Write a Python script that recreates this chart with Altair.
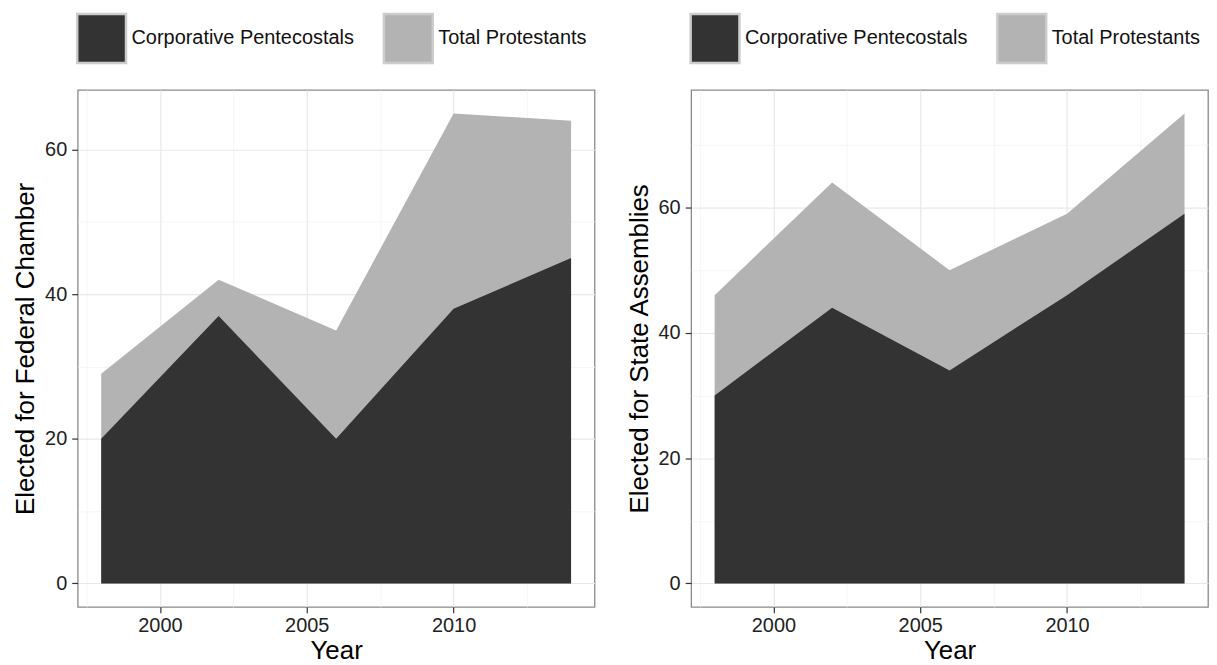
import altair as alt
import pandas as pd

years = [1998, 2002, 2006, 2010, 2014]
federal_pentecostals = [20, 37, 20, 38, 45]
federal_protestants = [29, 42, 35, 65, 64]
state_pentecostals = [30, 44, 34, 46, 59]
state_protestants = [46, 64, 50, 59, 75]

series_names = ["Corporative Pentecostals", "Total Protestants"]
series_colors = ["#333333", "#b3b3b3"]

FONT = "Liberation Sans"
W, H = 519, 519


def panel(pent, total, ytitle, ydomain, yvals):
    df = pd.concat([
        pd.DataFrame({"Year": years, "Value": pent, "Series": series_names[0]}),
        pd.DataFrame({"Year": years, "Value": total, "Series": series_names[1]}),
    ], ignore_index=True)
    cscale = alt.Scale(domain=series_names, range=series_colors)
    legend = alt.Legend(
        orient="none", legendX=-2, legendY=-78, direction="horizontal",
        title=None, padding=0, symbolType="square", symbolSize=2401,
        labelFontSize=20, labelFont=FONT, labelColor="#111111", labelLimit=500,
        labelOffset=4, columnPadding=24,
        symbolStrokeColor="#cccccc", symbolStrokeWidth=2.5, symbolOpacity=1,
    )
    xaxis = alt.Axis(
        values=[1997.5, 2000, 2002.5, 2005, 2007.5, 2010, 2012.5],
        labelExpr="datum.value % 5 === 0 ? format(datum.value, 'd') : ''",
        tickOpacity={"condition": {"test": "datum.value % 5 === 0", "value": 1}, "value": 0},
        gridColor={"condition": {"test": "datum.value % 5 === 0", "value": "#e8e8e8"}, "value": "#f3f3f3"},
        gridWidth={"condition": {"test": "datum.value % 5 === 0", "value": 1.2}, "value": 0.8},
        domain=False, tickSize=6, tickColor="#333333", tickWidth=1.2,
        labelFontSize=20, labelFont=FONT, labelColor="#222222", labelPadding=3,
        title="Year", titleFontSize=26, titleFont=FONT, titleFontWeight="normal",
        titleColor="#000000", titlePadding=2,
    )
    yaxis = alt.Axis(
        values=yvals,
        labelExpr="datum.value % 20 === 0 ? datum.label : ''",
        tickOpacity={"condition": {"test": "datum.value % 20 === 0", "value": 1}, "value": 0},
        gridColor={"condition": {"test": "datum.value % 20 === 0", "value": "#e8e8e8"}, "value": "#f3f3f3"},
        gridWidth={"condition": {"test": "datum.value % 20 === 0", "value": 1.2}, "value": 0.8},
        domain=False, tickSize=6, tickColor="#333333", tickWidth=1.2,
        labelFontSize=20, labelFont=FONT, labelColor="#222222", labelPadding=5,
        title=ytitle, titleFontSize=26, titleFont=FONT, titleFontWeight="normal",
        titleColor="#000000", titlePadding=6,
    )
    x = alt.X("Year:Q", scale=alt.Scale(domain=[1997.2, 2014.8], nice=False, zero=False), axis=xaxis)
    y = alt.Y("Value:Q", scale=alt.Scale(domain=ydomain, nice=False, zero=False), axis=yaxis)
    color = alt.Color("Series:N", scale=cscale, legend=legend)
    base = alt.Chart(df)
    total_layer = base.transform_filter(
        alt.datum.Series == series_names[1]
    ).mark_area(opacity=1).encode(x=x, y=y, color=color)
    pent_layer = base.transform_filter(
        alt.datum.Series == series_names[0]
    ).mark_area(opacity=1).encode(x=x, y=y, color=color)
    return alt.layer(total_layer, pent_layer).properties(width=W, height=H)


left = panel(federal_pentecostals, federal_protestants, "Elected for Federal Chamber",
             [-3.25, 68.25], [0, 10, 20, 30, 40, 50, 60])
right = panel(state_pentecostals, state_protestants, "Elected for State Assemblies",
              [-3.75, 78.75], [0, 10, 20, 30, 40, 50, 60, 70])

chart = (
    alt.hconcat(left, right, spacing=30)
    .resolve_scale(color="independent")
    .configure(padding={"left": 4, "right": 0, "top": 2, "bottom": 0})
    .configure_view(stroke="#8a8a8a", strokeWidth=1.3)
)

chart.save("out.html", embed_options={"renderer": "svg", "actions": False})
